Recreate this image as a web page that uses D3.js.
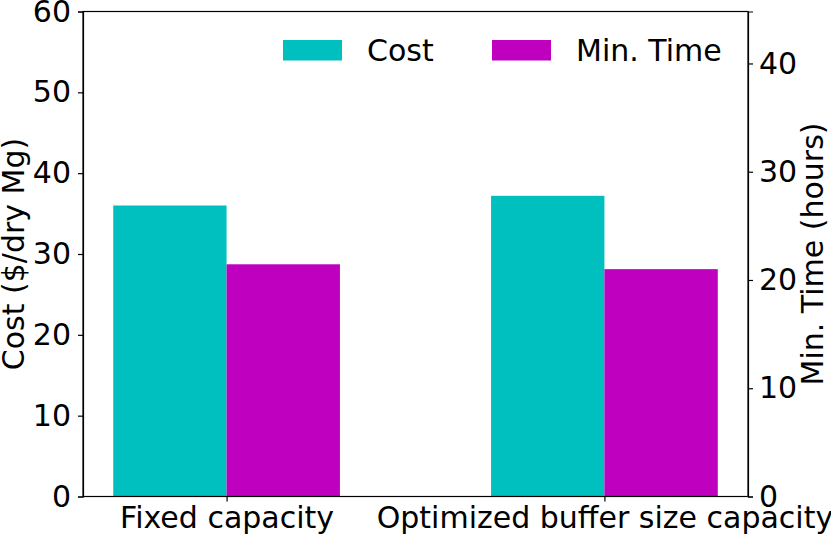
<!DOCTYPE html>
<html>
<head>
<meta charset="utf-8">
<script src="https://cdn.jsdelivr.net/npm/d3@7"></script>
<style>
  body { margin: 0; background: #fff; }
  text { font-family: "DejaVu Sans", sans-serif; fill: #000; }
</style>
</head>
<body>
<div id="chart"></div>
<script>
// data
const categories = ["Fixed capacity", "Optimized buffer size capacity"];
const costValues = [36.0, 37.2];      // $/dry Mg, left axis
const minTimeValues = [21.45, 21.0];  // hours, right axis
const leftTicks = [0, 10, 20, 30, 40, 50, 60];
const rightTicks = [0, 10, 20, 30, 40];

const W = 831, H = 536;
const margin = { top: 11.5, right: 83, bottom: 39.5, left: 83 };
const width = W - margin.left - margin.right,
      height = H - margin.top - margin.bottom;
const fs = "30px";
const cCost = "#00bfbf", cTime = "#bf00bf";

const svg = d3.select("#chart").append("svg")
    .attr("width", W).attr("height", H);
const g = svg.append("g")
    .attr("transform", "translate(" + margin.left + "," + margin.top + ")");

// bars sit at integer positions, width 0.3 each
const x = d3.scaleLinear().domain([-0.38, 1.38]).range([0, width]);
const yL = d3.scaleLinear().domain([0, 60]).range([height, 0]);
const yR = d3.scaleLinear().domain([0, 44.8]).range([height, 0]);
const bw = 0.3;

g.selectAll(".cost").data(costValues).enter().append("rect")
    .attr("class", "cost")
    .attr("x", (d, i) => x(i - bw))
    .attr("width", x(bw) - x(0))
    .attr("y", d => yL(d))
    .attr("height", d => height - yL(d))
    .attr("fill", cCost);

g.selectAll(".time").data(minTimeValues).enter().append("rect")
    .attr("class", "time")
    .attr("x", (d, i) => x(i))
    .attr("width", x(bw) - x(0))
    .attr("y", d => yR(d))
    .attr("height", d => height - yR(d))
    .attr("fill", cTime);

// axes
const xAxis = g.append("g")
    .attr("transform", "translate(0," + height + ")")
    .call(d3.axisBottom(x).tickValues(categories.map((c, i) => i))
        .tickFormat((d, i) => categories[i]).tickSize(5).tickPadding(5));
xAxis.select(".domain").remove();

g.append("g")
    .call(d3.axisLeft(yL).tickValues(leftTicks).tickSize(5).tickPadding(7));

g.append("g")
    .attr("transform", "translate(" + width + ",0)")
    .call(d3.axisRight(yR).tickValues(rightTicks).tickSize(5).tickPadding(6));

// frame
g.append("rect")
    .attr("width", width).attr("height", height)
    .attr("fill", "none").attr("stroke", "#000").attr("stroke-width", 1.2);

g.selectAll(".tick text").style("font-size", fs).style("font-family", "DejaVu Sans");
g.selectAll(".tick line").attr("stroke", "#000").attr("stroke-width", 1.2);
g.selectAll(".domain").attr("stroke", "#000").attr("stroke-width", 1.2);

// axis labels
svg.append("text")
    .attr("transform", "translate(24," + (margin.top + height / 2) + ") rotate(-90)")
    .style("text-anchor", "middle")
    .style("font-size", fs)
    .text("Cost ($/dry Mg)");

svg.append("text")
    .attr("transform", "translate(823," + (margin.top + height / 2) + ") rotate(-90)")
    .style("text-anchor", "middle")
    .style("font-size", fs)
    .text("Min. Time (hours)");

// legend
const legendItems = [
  { label: "Cost", color: cCost, x: 283 },
  { label: "Min. Time", color: cTime, x: 492 }
];
const lg = svg.append("g");
legendItems.forEach(function(it) {
  lg.append("rect")
    .attr("x", it.x).attr("y", 40)
    .attr("width", 59).attr("height", 20.5)
    .attr("fill", it.color);
  lg.append("text")
    .attr("x", it.x + 84).attr("y", 61)
    .style("font-size", fs)
    .text(it.label);
});
</script>
</body>
</html>
